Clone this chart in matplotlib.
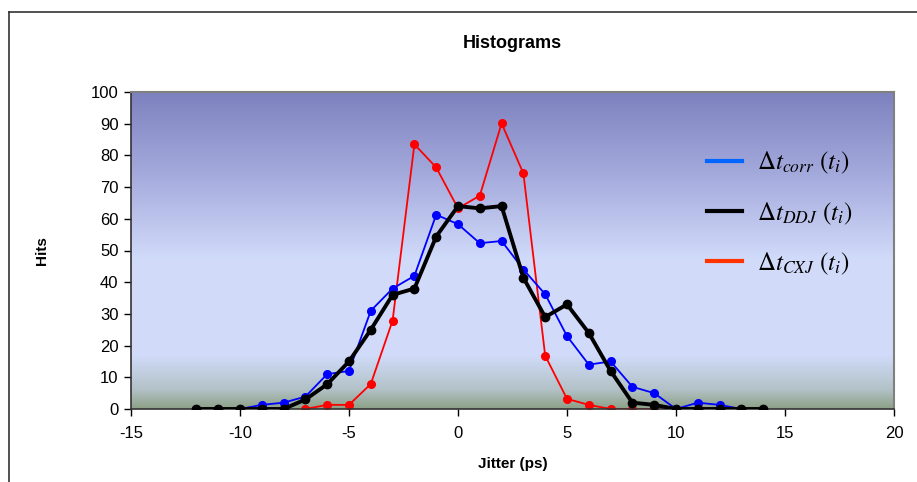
import numpy as np
import matplotlib.pyplot as plt
from matplotlib.colors import LinearSegmentedColormap
from matplotlib.lines import Line2D

plt.rcParams['font.family'] = ['Liberation Sans', 'DejaVu Sans']
plt.rcParams['mathtext.fontset'] = 'stix'
plt.rcParams['axes.unicode_minus'] = False

# jitter bins (ps)
jitter_corr = list(range(-12, 14))
hits_corr = [0, 0, 0, 1.3, 2, 3.9, 11, 12, 31, 38, 42, 61.3, 58.3, 52.3, 53,
             44, 36.2, 23, 14, 15, 7, 5, 0, 2, 1.3, 0]

jitter_ddj = list(range(-12, 15))
hits_ddj = [0, 0, 0, 0, 0, 3, 7.8, 15, 25, 36, 38, 54.4, 64, 63.3, 64,
            41.4, 29, 33, 24, 12, 2, 1.3, 0, 0, 0, 0, 0]

jitter_cxj = list(range(-7, 10))
hits_cxj = [0, 1.3, 1.3, 7.9, 27.9, 83.5, 76.2, 63.3, 67.3, 90.1, 74.3,
            16.8, 3.2, 1.3, 0, 0, 0]

labels = [r'$\Delta t_{corr}\ (t_i)$', r'$\Delta t_{DDJ}\ (t_i)$', r'$\Delta t_{CXJ}\ (t_i)$']

fig = plt.figure(figsize=(9.17, 4.82), dpi=100, facecolor='white')
ax = fig.add_axes([131/917, 1-409/482, (894-131)/917, (409-92)/482])

# outer chart frame
fig.add_artist(Line2D([9/917, 1], [1-12/482, 1-12/482], color='#333333', lw=1.2))
fig.add_artist(Line2D([9/917, 9/917], [0, 1-12/482], color='#333333', lw=1.2))

# background gradient
grad = LinearSegmentedColormap.from_list('bg', [
    (0.0, (0.55, 0.63, 0.53)),
    (0.06, (0.70, 0.76, 0.78)),
    (0.17, (0.82, 0.86, 0.98)),
    (0.47, (0.82, 0.86, 0.98)),
    (0.75, (0.64, 0.66, 0.86)),
    (1.0, (0.49, 0.51, 0.75)),
])
ax.imshow(np.linspace(0, 1, 256).reshape(-1, 1), cmap=grad, origin='lower',
          aspect='auto', extent=[-15, 20, 0, 100], zorder=0)

ax.plot(jitter_corr, hits_corr, color='#0000ff', lw=1.3, marker='o', ms=5.5, zorder=3)
ax.plot(jitter_cxj, hits_cxj, color='#ff0000', lw=1.3, marker='o', ms=5.5, zorder=2)
ax.plot(jitter_ddj, hits_ddj, color='black', lw=2.8, marker='o', ms=6, zorder=4)

ax.set_xlim(-15, 20)
ax.set_ylim(0, 100)
ax.set_xticks(range(-15, 21, 5))
ax.set_yticks(range(0, 101, 10))
ax.tick_params(labelsize=12, length=5, width=1)
ax.tick_params(axis='x', pad=7)
ax.tick_params(axis='y', pad=4)

for side in ['top', 'right']:
    ax.spines[side].set_color('#808080')
    ax.spines[side].set_linewidth(1.5)
for side in ['left', 'bottom']:
    ax.spines[side].set_color('#333333')
    ax.spines[side].set_linewidth(1.2)

ax.set_title('Histograms', fontsize=13, fontweight='bold', pad=32)
ax.set_xlabel('Jitter (ps)', fontsize=11, fontweight='bold', labelpad=12)
ax.set_ylabel('Hits', fontsize=11, fontweight='bold', labelpad=30)

handles = [Line2D([], [], color='#0066ff', lw=3),
           Line2D([], [], color='black', lw=3),
           Line2D([], [], color='#ff3300', lw=3)]
ax.legend(handles, labels, loc='upper left', bbox_to_anchor=(0.726, 0.888),
          frameon=False, fontsize=18, handlelength=1.4, labelspacing=0.96,
          handletextpad=0.6)

plt.savefig('out.png', dpi=100)
